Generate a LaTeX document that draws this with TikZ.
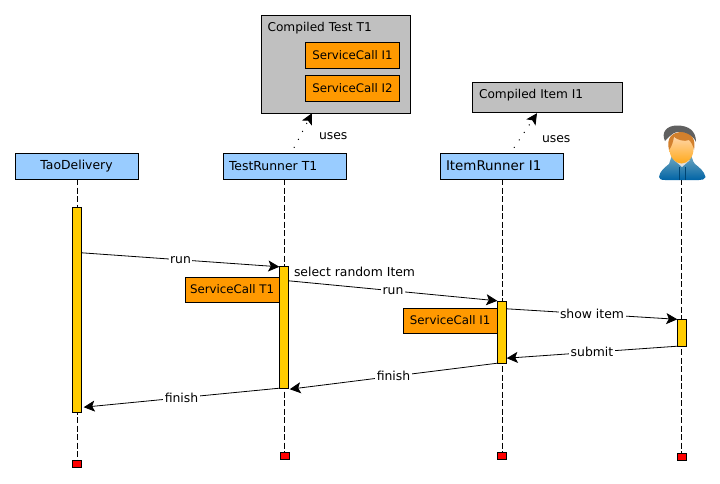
\documentclass[tikz,border=0pt]{standalone}
\usepackage{fontspec}
\setmainfont{DejaVu Sans}
\usepackage{xcolor}
\usetikzlibrary{arrows.meta,shapes.geometric,positioning,calc}
\definecolor{headblue}{HTML}{99CCFF}
\definecolor{callorange}{HTML}{FF9900}
\definecolor{baryellow}{HTML}{FFCC00}
\definecolor{compiledgray}{HTML}{C0C0C0}

\begin{document}
\begin{tikzpicture}[x=1pt, y=-1pt, font=\fontsize{12.4}{14}\selectfont]
    % Define styles
    \tikzstyle{head} = [rectangle, draw=black, fill=headblue, minimum width=123pt, minimum height=26pt, inner sep=0pt]
    \tikzstyle{headleft} = [head, text width=111pt, align=left, inner xsep=6pt]
    \tikzstyle{compiled} = [rectangle, draw=black, fill=compiledgray, inner sep=0pt]
    \tikzstyle{compiledlabel} = [anchor=west, font=\fontsize{12.15}{14}\selectfont]
    \tikzstyle{call} = [rectangle, draw=black, fill=callorange, minimum width=94pt, minimum height=26pt, inner sep=0pt, font=\fontsize{11.8}{14}\selectfont]
    \tikzstyle{bar} = [rectangle, draw=black, fill=baryellow, minimum width=9pt, inner sep=0pt]
    \tikzstyle{endmark} = [rectangle, draw=black, fill=red, minimum width=9pt, minimum height=7pt, inner sep=0pt]
    \tikzstyle{lifeline} = [draw=black, dash pattern=on 6pt off 2.5pt]
    \tikzstyle{msg} = [-{Stealth[inset=2.5pt,length=11pt,width=11pt]}, draw=black, line width=0.8pt]
    \tikzstyle{msglabel} = [fill=white, inner sep=1.5pt, midway]
    \tikzstyle{usesline} = [-{Stealth[inset=2.5pt,length=11pt,width=11pt]}, draw=black, line width=1pt, dash pattern=on 1pt off 8pt]
    \useasboundingbox (0,0) rectangle (720,483);

    % Headers
    \node[head] (tao) at (76.5,166) {TaoDelivery};
    \node[headleft] (testrunner) at (284.5,166) {TestRunner T1};
    \node[headleft, font=\fontsize{13.4}{14}\selectfont] (itemrunner) at (501.5,166) {ItemRunner I1};
    \coordinate (user) at (681.5,179);

    % Compiled blocks
    \node[compiled, minimum width=149pt, minimum height=98pt] (compiledtest) at (336,64) {};
    \node[compiledlabel] (compiledtestlabel) at (264,28.5) {Compiled Test T1};
    \node[call] (callone) at (352.5,55) {ServiceCall I1};
    \node[call] (calltwo) at (352.5,88) {ServiceCall I2};
    \node[compiled, minimum width=150pt, minimum height=30pt] (compileditem) at (547,97) {};
    \node[compiledlabel] (compileditemlabel) at (475.5,95.5) {Compiled Item I1};

    % End marks
    \node[endmark] (endtao) at (77,464) {};
    \node[endmark] (endtest) at (284.5,455.5) {};
    \node[endmark] (enditem) at (502,455.5) {};
    \node[endmark] (enduser) at (682,456.5) {};

    % Lifelines
    \draw[lifeline] ([xshift=1pt]tao.south) -- ([xshift=0.5pt]endtao.north);
    \draw[lifeline] (testrunner.south) -- (endtest.north);
    \draw[lifeline] ([xshift=1pt]itemrunner.south) -- ([xshift=0.5pt]enditem.north);
    \draw[lifeline] (user) -- ([xshift=-0.5pt]enduser.north);

    % Activations
    \node[bar, minimum height=205pt] (bartao) at (77,309.5) {};
    \node[bar, minimum height=122pt] (bartest) at (284,327) {};
    \node[bar, minimum height=62pt] (baritem) at (502,332) {};
    \node[bar, minimum height=27pt] (baruser) at (682,332.5) {};
    \node[call, minimum height=25pt, anchor=east] (calltest) at (bartest.west |- 0,289.5) {ServiceCall T1};
    \node[call, minimum height=25pt, anchor=east] (callitem) at (baritem.west |- 0,320.5) {ServiceCall I1};

    % Person
    \shade[top color=blue!30!cyan!55!black!55!white, bottom color=blue!40!cyan!65!black, draw=none] (659,177) .. controls (660,171) and (664,168) .. (669,164) .. controls (671,161) and (670,158) .. (672,155) -- (691,155) .. controls (693,158) and (692,161) .. (695,164) .. controls (700,168) and (704,171) .. (705.5,177) .. controls (705,179.5) and (702,180) .. (699,180) -- (665,180) .. controls (661,180) and (659,179) .. (659,177) -- cycle;
    \fill[gray!25] (674,160) -- (690,160) -- (682,167) -- cycle;
    \draw[blue!40!cyan!45!black, line width=0.5pt] (679,167) -- (679,180) (685,167) -- (685,180);
    \shade[top color=orange!30!white, bottom color=orange!75!yellow!90!white, draw=none] (681.5,149) ellipse (12pt and 14.5pt);
    \fill[brown!70!orange] (669,150) .. controls (666,138) and (672,132) .. (682,132) .. controls (692,132) and (696,140) .. (694,150) .. controls (693,145) and (691,142) .. (689,140) .. controls (684,142) and (678,140) .. (674,137) .. controls (673,142) and (672,146) .. (669,150) -- cycle;
    \fill[gray!75!black] (665,141) .. controls (661,133) and (666,125.5) .. (677,125.5) .. controls (689,125.5) and (696,131) .. (696,142) .. controls (693,135) and (685,131) .. (677,132) .. controls (672,133) and (669,137) .. (665,141) -- cycle;

    % Uses arrows
    \draw[usesline] ([xshift=9.5pt,yshift=5pt]testrunner.north) -- (compiledtest.south -| 312,0);
    \node[anchor=west] (usestest) at (315.5,136) {uses};
    \draw[usesline] ([xshift=12.5pt,yshift=5pt]itemrunner.north) -- ([xshift=-10pt,yshift=-1pt]compileditem.south);
    \node[anchor=west] (usesitem) at (538.5,139) {uses};

    % Sequence messages
    \draw[msg] ([yshift=-46pt]bartao.north east) -- node[msglabel] {run} ([yshift=-1pt]bartest.north west);
    \node[anchor=west] (selectlabel) at (290.5,272) {select random Item};
    \draw[msg] ([yshift=-15pt]bartest.north east) -- node[msglabel] {run} (baritem.north west);
    \draw[msg] ([yshift=-8pt]baritem.north east) -- node[msglabel] {show item} ([yshift=-0.5pt]baruser.north west);
    \draw[msg] (baruser.south west) -- node[msglabel] {submit} ([yshift=5pt]baritem.south east);
    \draw[msg] (baritem.south west) -- node[msglabel] {finish} ([xshift=1pt,yshift=-1pt]bartest.south east);
    \draw[msg] (bartest.south west) -- node[msglabel] {finish} ([xshift=2pt,yshift=5pt]bartao.south east);
\end{tikzpicture}
\end{document}
